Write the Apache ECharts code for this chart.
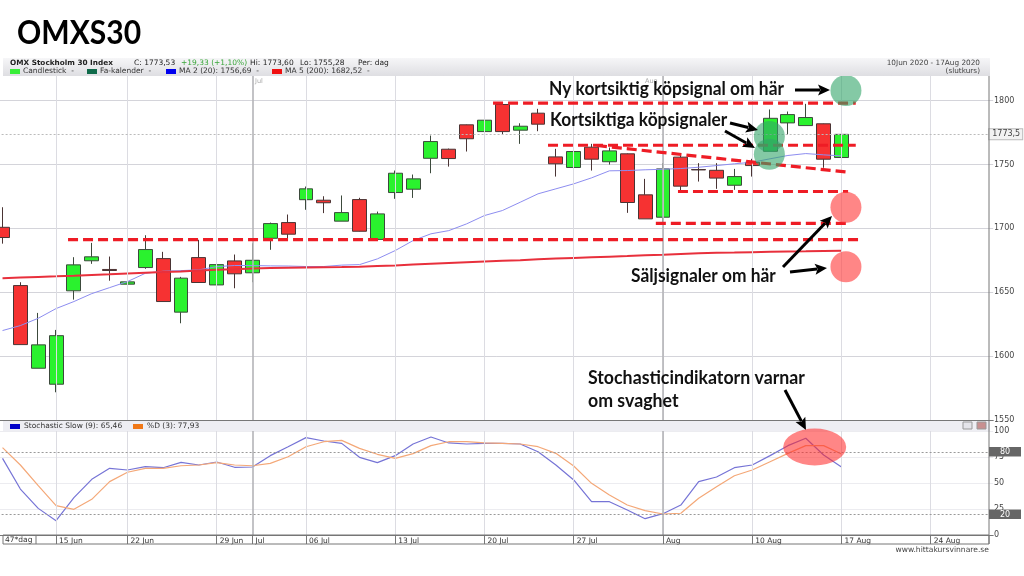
<!DOCTYPE html>
<html><head><meta charset="utf-8">
<style>html,body{margin:0;padding:0;background:#fff}#c{width:1024px;height:576px}</style>
<script src="https://cdn.jsdelivr.net/npm/echarts@6/dist/echarts.min.js"></script>
</head><body><div id="c"></div>
<script>
// ---- data ----
const categories = ['10 Jun','11 Jun','12 Jun','15 Jun','16 Jun','17 Jun','18 Jun','22 Jun','23 Jun','24 Jun','25 Jun','26 Jun','29 Jun','30 Jun','Jul','02 Jul','03 Jul','06 Jul','07 Jul','08 Jul','09 Jul','10 Jul','13 Jul','14 Jul','15 Jul','16 Jul','17 Jul','20 Jul','21 Jul','22 Jul','23 Jul','24 Jul','27 Jul','28 Jul','29 Jul','30 Jul','31 Jul','Aug','04 Aug','05 Aug','06 Aug','07 Aug','10 Aug','11 Aug','12 Aug','13 Aug','14 Aug','17 Aug','18 Aug','19 Aug','20 Aug','21 Aug','24 Aug','25 Aug','26 Aug','27 Aug'];
const opens  = [1700.8,1655.2,1590.5,1578,1651.1,1674.6,1667.8,1656.3,1669.3,1676.3,1634.4,1677.1,1655.7,1674.5,1665.2,1692.2,1704.5,1722.4,1722,1705.6,1722.5,1691.3,1728,1730.6,1754.8,1761.9,1781,1775.7,1796.9,1776.8,1790.1,1755.9,1747.6,1763.5,1752.1,1758.3,1726.2,1708.7,1755.7,1746,1745.4,1733.7,1751.7,1760.3,1782.5,1780.4,1781.8,1755.4];
const closes = [1692.8,1609,1608.8,1616,1671.4,1677.7,1667,1658.1,1683.4,1642.7,1661,1657.6,1671.6,1664.4,1675,1703.7,1695.4,1730.9,1720,1712.3,1697.7,1711.3,1743.1,1738.7,1767.9,1754.6,1770.1,1784.6,1775.7,1779.9,1781.5,1750.5,1760.1,1754.1,1760.6,1720.2,1707.4,1746.5,1733,1745.7,1739.3,1740.5,1749.1,1786.1,1789,1786.7,1754.1,1773.53];
const lows   = [1688,1609,1590.5,1571.7,1644.2,1672.2,1659,1647.4,1668.3,1642.7,1625.7,1657.6,1651,1653.1,1657.8,1683.2,1690.4,1714.5,1711.9,1705.6,1697.5,1690.5,1723.1,1723.8,1743.1,1748.3,1760.1,1766.6,1773.2,1766.1,1776,1740.5,1745.2,1745.2,1749.9,1712.1,1707.4,1704.8,1728.3,1736.6,1730.9,1730.1,1740.5,1760.3,1773.4,1780.4,1747.4,1755.28];
const highs  = [1716.5,1657.8,1633.8,1620.5,1677.4,1688.6,1677.9,1668.8,1694.6,1681.6,1662,1691,1674.8,1679.5,1688.3,1704.5,1710.8,1732.7,1725.1,1725.7,1723.9,1713.1,1745.2,1742.1,1772.6,1762.4,1781.2,1787.5,1797.5,1782.2,1793.5,1762.2,1763.5,1766.1,1763.2,1758.6,1738.7,1751,1757.5,1751,1751,1746.5,1754.4,1793,1791.4,1797.4,1782,1773.6];
const ma20   = [1620,1623.9,1629.6,1637.2,1642.7,1648.9,1653.6,1658.3,1664.8,1666.4,1666.9,1667.5,1670,1670.9,1670.9,1670.6,1670.5,1670.1,1670.1,1671.2,1671.6,1676.1,1682.6,1690.4,1695.7,1698.2,1703.5,1710,1713.9,1720.4,1727,1730.9,1734.8,1739.5,1745,1745.2,1745.8,1746.2,1746.8,1747.8,1749.1,1750.5,1751.7,1754.4,1757,1758.5,1757.5,1756.69];
const ma200  = [1661,1661.5,1662,1662.4,1662.9,1663.5,1664,1664.6,1665.2,1665.8,1666.3,1666.9,1667.5,1668,1668.6,1668.9,1669.1,1669.3,1669.5,1669.7,1670,1670.5,1671,1671.6,1672.2,1672.8,1673.4,1674,1674.6,1675.1,1675.7,1676.3,1676.8,1677.3,1677.8,1678.3,1678.9,1679.4,1680,1680.4,1680.8,1681,1681.3,1681.6,1681.8,1682,1682.3,1682.52];
const stochK = [73.7,44.2,25.6,13.8,35.9,53.5,64.1,62.5,65.7,64.7,69.9,67.3,70.2,65.1,65.4,76.3,84.9,93.6,90.4,88.1,74.7,69.6,76.3,87.5,94.2,88.5,87.5,88.1,88.1,87.5,80.1,67.3,52.9,32,32,24,15.7,20.5,28.8,51.3,55.8,64.7,67.3,76.3,85.9,93,76.9,65.46];
const stochD = [84,67.3,47.4,28.2,24.7,34.3,51.3,60.3,64.1,64.1,66.6,67.3,69.6,67.3,66.6,68.9,75.3,84.9,89.7,91,83.3,77.6,73.7,78.2,85.9,89.7,89.7,88.5,88.1,87.5,84.9,78.5,66.3,49.7,38.5,28.8,23.4,20.2,20.9,35.3,46.4,57,62.5,70.5,78.5,85.9,85.9,77.93];
const weekTicks  = [3,7,12,17,22,27,32,37,42,47,52];
const monthTicks = [14,37];
const lastClose = 1773.53;
// annotation levels: [from day index, value, to day index, value]
const dashedLevels = [
  [27.48,1797.9,47.8,1797.9],
  [30.56,1765,47.8,1765],
  [33.3,1764.8,47.3,1744],
  [37.84,1728.8,47.37,1728.8],
  [36.6,1703.9,47.48,1703.9],
  [3.67,1691.2,48.2,1691.2]
];
const buyCircles  = [[47.25,1807.8],[42.96,1771.8],[42.96,1757.9]];
const sellCircles = [[47.25,1716.5],[47.25,1669.9]];
const warnEllipse = [[45.5,84.6]];
const titleText = 'OMXS30';
const notes = ['Ny kortsiktig köpsignal om här','Kortsiktiga köpsignaler','Säljsignaler om här','Stochasticindikatorn varnar','om svaghet'];

// ---- chart ----
const chart = echarts.init(document.getElementById('c'), null, {renderer:'canvas', width:1024, height:576});
const gridL = -6.4, gridW = 999.6;
const smallFont = '"DejaVu Sans"';
const noteFont = 'Lato';
const candleData = opens.map((o,i)=>[o,closes[i],lows[i],highs[i]]);
const vLines = (idx,color,w)=>({silent:true,symbol:'none',animation:false,label:{show:false},
  lineStyle:{color:color,width:w,type:'solid'},data:idx.map(i=>({xAxis:i}))});
const helper = (name,xi,yi,markLine,z)=>({name,type:'line',xAxisIndex:xi,yAxisIndex:yi,data:[],z:z||1,silent:true,markLine});
const hLevel = (v)=>({silent:true,symbol:'none',animation:false,label:{show:false},
  lineStyle:{color:'#999',width:1,type:[2,2]},
  data:[{yAxis:v}]});
const T=(x,y,text,o,sx)=>({type:'text',x,y,scaleX:sx||1,z:100,silent:true,style:Object.assign({text,fontFamily:smallFont,fontSize:7.5,fill:'#333',textVerticalAlign:'middle'},o||{})});
const R=(x,y,w,h,fill,o)=>({type:'rect',silent:true,z:o&&o.z||50,shape:{x,y,width:w,height:h},style:Object.assign({fill},o&&o.style||{})});

const arrows = [
  [795,90,830,90],
  [730,123,758,130],
  [725,131,755,148],
  [783,267,832,216],
  [790,272,827,268],
  [785,390,806,430]
];
const arrowGraphics = [];
arrows.forEach(a=>{
  const dx=a[2]-a[0],dy=a[3]-a[1],len=Math.hypot(dx,dy),ux=dx/len,uy=dy/len,headL=12,headW=5.5;
  const bx=a[2]-ux*headL,by=a[3]-uy*headL;
  arrowGraphics.push({type:'line',z:110,silent:true,shape:{x1:a[0],y1:a[1],x2:bx+ux*2,y2:by+uy*2},style:{stroke:'#000',lineWidth:3}});
  arrowGraphics.push({type:'polygon',z:110,silent:true,shape:{points:[[a[2],a[3]],[bx-uy*headW,by+ux*headW],[bx+ux*2.5,by+uy*2.5],[bx+uy*headW,by-ux*headW]]},style:{fill:'#000'}});
});

const series = [
  helper('gridWeek0',2,0,vLines(weekTicks,'#dcdce2',1)),
  helper('gridMonth0',2,0,vLines(monthTicks,'#b4b4b8',1.6)),
  helper('gridWeek1',3,1,vLines(weekTicks,'#dcdce2',1)),
  helper('gridMonth1',3,1,vLines(monthTicks,'#b4b4b8',1.6)),
  {name:'last',type:'line',xAxisIndex:2,yAxisIndex:0,data:[],z:1,silent:true,markLine:{silent:true,symbol:'none',animation:false,
    lineStyle:{color:'#bbb',width:1,type:[2,2]},
    data:[{yAxis:lastClose,label:{show:true,position:'end',distance:-4,formatter:'1773,5',color:'#444',backgroundColor:'#f2f2f2',borderColor:'#bbb',borderWidth:1,
      fontFamily:smallFont,fontSize:8,padding:[1,2,1,3]}}]}},
  helper('lvl80',3,1,hLevel(80)),
  helper('lvl20',3,1,hLevel(20)),
  {name:'Candlestick',type:'candlestick',xAxisIndex:0,yAxisIndex:0,data:candleData,barWidth:14.4,z:3,silent:true,
    itemStyle:{color:'#2af22e',color0:'#f63232',borderColor:'#3c4a3c',borderColor0:'#4a3434',borderWidth:1}},
  {name:'MA 2 (20)',type:'line',xAxisIndex:0,yAxisIndex:0,data:ma20,showSymbol:false,z:4,silent:true,lineStyle:{color:'#8d8df0',width:1}},
  {name:'MA 5 (200)',type:'line',xAxisIndex:0,yAxisIndex:0,data:ma200,showSymbol:false,z:4,silent:true,lineStyle:{color:'#e8303c',width:2}},
  {name:'Stochastic Slow (9)',type:'line',xAxisIndex:1,yAxisIndex:1,data:stochK,showSymbol:false,z:4,silent:true,lineStyle:{color:'#7674d6',width:1.2}},
  {name:'%D (3)',type:'line',xAxisIndex:1,yAxisIndex:1,data:stochD,showSymbol:false,z:4,silent:true,lineStyle:{color:'#f4a878',width:1.2}}
];
dashedLevels.forEach((d,i)=>series.push({name:'level'+i,type:'line',xAxisIndex:2,yAxisIndex:0,
  data:[[d[0],d[1]],[d[2],d[3]]],showSymbol:false,z:6,silent:true,clip:false,
  lineStyle:{color:'#ee1c25',width:3.2,type:[10,5]}}));
series.push(
  {name:'buy',type:'scatter',xAxisIndex:2,yAxisIndex:0,data:buyCircles,symbolSize:31,z:7,silent:true,clip:false,
    itemStyle:{color:'rgba(50,165,105,0.75)'}},
  {name:'sell',type:'scatter',xAxisIndex:2,yAxisIndex:0,data:sellCircles,symbolSize:31,z:7,silent:true,clip:false,
    itemStyle:{color:'rgba(255,70,70,0.82)'}},
  {name:'warn',type:'scatter',xAxisIndex:3,yAxisIndex:1,data:warnEllipse,symbolSize:[63,37],z:120,silent:true,clip:false,
    itemStyle:{color:'rgba(255,40,40,0.7)'}}
);

const nb={fontFamily:noteFont,fontWeight:'bold',fontSize:19.5,fill:'#111'};
const graphics = [
  R(3,58,987,18,new echarts.graphic.LinearGradient(0,0,0,1,[{offset:0,color:'#f6f6f8'},{offset:1,color:'#dedee2'}])),
  R(3,421,987,10,'#eeeef3'),
  R(3,535,986,9,'none',{style:{stroke:'#777',lineWidth:1}}),
  {type:'line',z:60,silent:true,shape:{x1:36,y1:535,x2:36,y2:544},style:{stroke:'#777',lineWidth:1}},
  {type:'line',z:60,silent:true,shape:{x1:989,y1:76,x2:989,y2:544},style:{stroke:'#777',lineWidth:1}},
  T(5,540,'47*dag',{fontSize:7.5,fill:'#333'}),
  T(10,63,'OMX Stockholm 30 Index',{fontWeight:'bold',fontSize:7.3,fill:'#222'}),
  T(134,63,'C: 1773,53',{fill:'#222'}),
  T(181,63,'+19,33 (+1,10%)',{fill:'#3aa63a'}),
  T(250,63,'Hi: 1773,60',{fill:'#222'}),
  T(300,63,'Lo: 1755,28',{fill:'#222'}),
  T(358,63,'Per: dag',{fill:'#222'}),
  R(10,69,10,5,'#38ee38'),
  T(23,71.5,'Candlestick  -',{fill:'#333'}),
  R(87,69,10,5,'#0f6a4a'),
  T(100,71.5,'Fa-kalender  -',{fill:'#333'}),
  R(166,69,10,5,'#0000ee'),
  T(179,71.5,'MA 2 (20): 1756,69  -',{fill:'#333'}),
  R(272,69,10,5,'#f01010'),
  T(285,71.5,'MA 5 (200): 1682,52  -',{fill:'#333'}),
  T(980,63,'10Jun 2020 - 17Aug 2020',{textAlign:'right',fill:'#444',fontSize:7.3}),
  T(980,71,'(slutkurs)',{textAlign:'right',fill:'#444',fontSize:7.3}),
  T(255,81,'Jul',{fill:'#aaa',fontSize:6.5}),
  T(645,81,'Aug',{fill:'#aaa',fontSize:6.5}),
  R(10,424,10,5,'#0000c8'),
  T(24,426,'Stochastic Slow (9): 65,46',{fill:'#333'}),
  R(133,424,10,5,'#f07818'),
  T(147,426,'%D (3): 77,93',{fill:'#333'}),
  R(963,422,9,7,'#e4e4ea',{style:{stroke:'#999',lineWidth:1}}),
  R(977,422,9,7,'#c89090',{style:{stroke:'#999',lineWidth:1}}),
  R(989,447,32,9.5,'#666',{z:95}),
  R(989,509.5,32,9.5,'#666',{z:95}),
  T(1005,452,'80',{textAlign:'center',fill:'#fff',fontSize:8}),
  T(1005,514.5,'20',{textAlign:'center',fill:'#fff',fontSize:8}),
  T(989,550.5,'www.hittakursvinnare.se',{textAlign:'right',fill:'#444',fontSize:7.6}),
  T(17,33,titleText,{fontFamily:noteFont,fontWeight:'bold',fontSize:33,fill:'#000'},0.91),
  T(549,89,notes[0],nb,0.89),
  T(550,120,notes[1],nb,0.89),
  T(631,276,notes[2],nb,0.89),
  T(588,378,notes[3],nb,0.91),
  T(588,401,notes[4],nb,0.91),
  ...arrowGraphics
];

chart.setOption({
  animation:false,
  backgroundColor:'#fff',
  grid:[
    {left:gridL,top:76,width:gridW,height:344,outerBoundsMode:'none'},
    {left:gridL,top:431,width:gridW,height:104,outerBoundsMode:'none'}
  ],
  xAxis:[
    {type:'category',gridIndex:0,data:categories,axisLabel:{show:false},axisTick:{show:false},splitLine:{show:false},
      axisLine:{show:true,lineStyle:{color:'#777',width:1.2}}},
    {type:'category',gridIndex:1,data:categories,position:'bottom',
      axisLine:{show:true,lineStyle:{color:'#777',width:1}},
      axisTick:{show:true,alignWithLabel:true,length:9,interval:(i)=>weekTicks.includes(i)||monthTicks.includes(i),lineStyle:{color:'#777',width:1}},
      axisLabel:{show:true,interval:(i)=>weekTicks.includes(i)||monthTicks.includes(i),align:'left',margin:2,padding:[0,0,0,3],
        fontFamily:smallFont,fontSize:7.5,color:'#333',hideOverlap:false},
      splitLine:{show:false}},
    {type:'value',gridIndex:0,min:-0.5,max:55.5,show:false,splitLine:{show:false}},
    {type:'value',gridIndex:1,min:-0.5,max:55.5,show:false,splitLine:{show:false}}
  ],
  yAxis:[
    {type:'value',gridIndex:0,position:'right',offset:-4.2,min:1550,max:1819.2,interval:50,
      axisLine:{show:false},axisTick:{show:false},
      splitLine:{show:true,showMaxLine:false,lineStyle:{color:'#d4d4da',width:1}},
      axisLabel:{showMaxLabel:false,margin:5,fontFamily:smallFont,fontSize:8,color:'#444',formatter:(v)=>String(v)}},
    {type:'value',gridIndex:1,position:'right',offset:-4.2,min:0,max:100,interval:25,
      axisLine:{show:false},axisTick:{show:false},
      splitLine:{show:true,lineStyle:{color:'#ececf0',width:1}},
      axisLabel:{margin:5,fontFamily:smallFont,fontSize:8,color:'#444'}}
  ],
  series,
  graphic:{elements:graphics}
});
</script></body></html>
